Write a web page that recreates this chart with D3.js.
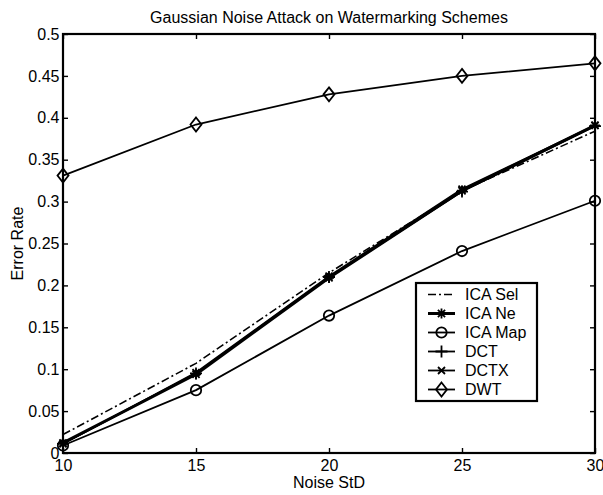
<!DOCTYPE html>
<html>
<head>
<meta charset="utf-8">
<script src="https://cdn.jsdelivr.net/npm/d3@7"></script>
<style>
  html, body { margin: 0; padding: 0; background: #fff; }
  svg { display: block; font-family: "Liberation Sans", Arial, Helvetica, sans-serif; }
</style>
</head>
<body>
<svg id="chart" width="603" height="495"></svg>
<script>
// Noise standard deviations applied to the watermarked images
const noiseStd = [10, 15, 20, 25, 30];

// Error rate of each watermarking scheme after the Gaussian noise attack
const icaSel = [0.022, 0.107, 0.215, 0.313, 0.384];
const icaNe  = [0.012, 0.094, 0.209, 0.313, 0.391];
const icaMap = [0.009, 0.075, 0.164, 0.241, 0.301];
const dct    = [0.011, 0.095, 0.210, 0.312, 0.390];
const dctx   = [0.011, 0.096, 0.211, 0.315, 0.391];
const dwt    = [0.331, 0.392, 0.428, 0.450, 0.465];

const seriesNames = ["ICA Sel", "ICA Ne", "ICA Map", "DCT", "DCTX", "DWT"];

// Axis ticks
const xTicks = [10, 15, 20, 25, 30];
const xTickLabels = ["10", "15", "20", "25", "30"];
const yTicks = [0, 0.05, 0.1, 0.15, 0.2, 0.25, 0.3, 0.35, 0.4, 0.45, 0.5];
const yTickLabels = ["0", "0.05", "0.1", "0.15", "0.2", "0.25", "0.3", "0.35", "0.4", "0.45", "0.5"];

const titleText = "Gaussian Noise Attack on Watermarking Schemes";
const xLabelText = "Noise StD";
const yLabelText = "Error Rate";

// Per-series drawing style (line dash, width and marker shape)
const styles = {
  "ICA Sel": { dash: "8,3,2,3", width: 1.6, marker: "none" },
  "ICA Ne":  { dash: null, width: 3, marker: "star" },
  "ICA Map": { dash: null, width: 1.8, marker: "circle" },
  "DCT":     { dash: null, width: 1.8, marker: "plus" },
  "DCTX":    { dash: null, width: 1.8, marker: "cross" },
  "DWT":     { dash: null, width: 1.8, marker: "diamond" }
};

const seriesValues = [icaSel, icaNe, icaMap, dct, dctx, dwt];
const series = seriesNames.map((name, i) => ({
  name,
  points: noiseStd.map((x, j) => ({ x, y: seriesValues[i][j] })),
  style: styles[name]
}));

const plot = { left: 63, right: 595, top: 34, bottom: 453 };

const svg = d3.select("#chart");
const x = d3.scaleLinear().domain([10, 30]).range([plot.left, plot.right]);
const y = d3.scaleLinear().domain([0, 0.5]).range([plot.bottom, plot.top]);

const fontSize = 16;
const tickLen = 5;

// Axes: ticks point inward on all four sides, labels on bottom and left
function styleAxis(g) {
  g.select(".domain").remove();
  g.selectAll(".tick line").attr("stroke", "#000").attr("stroke-width", 1.4);
  g.selectAll(".tick text").attr("fill", "#000").attr("font-size", fontSize)
    .attr("font-family", "Liberation Sans, Arial, Helvetica, sans-serif");
}

svg.append("g")
  .attr("transform", `translate(0,${plot.bottom})`)
  .call(d3.axisBottom(x).tickValues(xTicks).tickFormat((d, i) => xTickLabels[i])
    .tickSizeInner(-tickLen).tickSizeOuter(0).tickPadding(7))
  .call(styleAxis);

svg.append("g")
  .attr("transform", `translate(0,${plot.top})`)
  .call(d3.axisTop(x).tickValues(xTicks).tickFormat("")
    .tickSizeInner(-tickLen).tickSizeOuter(0))
  .call(styleAxis);

svg.append("g")
  .attr("transform", `translate(${plot.left},0)`)
  .call(d3.axisLeft(y).tickValues(yTicks).tickFormat((d, i) => yTickLabels[i])
    .tickSizeInner(-tickLen).tickSizeOuter(0).tickPadding(3.5))
  .call(styleAxis);

svg.append("g")
  .attr("transform", `translate(${plot.right},0)`)
  .call(d3.axisRight(y).tickValues(yTicks).tickFormat("")
    .tickSizeInner(-tickLen).tickSizeOuter(0))
  .call(styleAxis);

// Data lines
const line = d3.line().x(d => x(d.x)).y(d => y(d.y));

const layer = svg.append("g");

// Marker shapes drawn around (0,0)
function drawMarker(g, kind) {
  const s = "#000";
  if (kind === "circle") {
    g.append("circle").attr("r", 5.2).attr("fill", "none").attr("stroke", s).attr("stroke-width", 1.8);
  } else if (kind === "diamond") {
    g.append("path").attr("d", "M0,-7L5.5,0L0,7L-5.5,0Z")
      .attr("fill", "none").attr("stroke", s).attr("stroke-width", 1.8);
  } else if (kind === "plus") {
    g.append("path").attr("d", "M-6,0H6M0,-6V6")
      .attr("stroke", s).attr("stroke-width", 1.8);
  } else if (kind === "cross") {
    g.append("path").attr("d", "M-3.5,-3.5L3.5,3.5M-3.5,3.5L3.5,-3.5")
      .attr("stroke", s).attr("stroke-width", 1.8);
  } else if (kind === "star") {
    g.append("path").attr("d", "M-5,0H5M0,-5V5M-3.6,-3.6L3.6,3.6M-3.6,3.6L3.6,-3.6")
      .attr("stroke", s).attr("stroke-width", 1.8);
  }
}

series.forEach(sr => {
  const p = layer.append("path")
    .datum(sr.points)
    .attr("d", line)
    .attr("fill", "none")
    .attr("stroke", "#000")
    .attr("stroke-width", sr.style.width)
    .attr("stroke-linejoin", "round");
  if (sr.style.dash) p.attr("stroke-dasharray", sr.style.dash);

  if (sr.style.marker !== "none") {
    layer.append("g").selectAll("g")
      .data(sr.points)
      .join("g")
      .attr("transform", d => `translate(${x(d.x)},${y(d.y)})`)
      .each(function () { drawMarker(d3.select(this), sr.style.marker); });
  }
});

// Axes box
svg.append("rect")
  .attr("x", plot.left).attr("y", plot.top)
  .attr("width", plot.right - plot.left).attr("height", plot.bottom - plot.top)
  .attr("fill", "none").attr("stroke", "#000").attr("stroke-width", 2.2);

// Title and axis labels
svg.append("text")
  .attr("x", (plot.left + plot.right) / 2).attr("y", 22.5)
  .attr("text-anchor", "middle").attr("font-size", fontSize).attr("fill", "#000")
  .text(titleText);

svg.append("text")
  .attr("x", (plot.left + plot.right) / 2).attr("y", 488)
  .attr("text-anchor", "middle").attr("font-size", fontSize).attr("fill", "#000")
  .text(xLabelText);

svg.append("text")
  .attr("transform", `translate(22.5,${(plot.top + plot.bottom) / 2}) rotate(-90)`)
  .attr("text-anchor", "middle").attr("font-size", fontSize).attr("fill", "#000")
  .text(yLabelText);

// Legend
const legend = { x: 416, y: 283, w: 121, h: 118, row: 19 };
const lg = svg.append("g");
lg.append("rect")
  .attr("x", legend.x).attr("y", legend.y).attr("width", legend.w).attr("height", legend.h)
  .attr("fill", "#fff").attr("stroke", "#000").attr("stroke-width", 2.2);

series.forEach((sr, i) => {
  const cy = legend.y + 11.5 + i * legend.row;
  const row = lg.append("g").attr("transform", `translate(0,${cy})`);
  const l = row.append("line")
    .attr("x1", legend.x + 12).attr("x2", legend.x + 39)
    .attr("y1", 0).attr("y2", 0)
    .attr("stroke", "#000").attr("stroke-width", sr.style.width);
  if (sr.style.dash) l.attr("stroke-dasharray", sr.style.dash);
  if (sr.style.marker !== "none") {
    drawMarker(row.append("g").attr("transform", `translate(${legend.x + 25.5},0)`), sr.style.marker);
  }
  row.append("text")
    .attr("x", legend.x + 49).attr("y", 0).attr("dy", "0.35em")
    .attr("font-size", fontSize).attr("fill", "#000")
    .text(sr.name);
});
</script>
</body>
</html>
